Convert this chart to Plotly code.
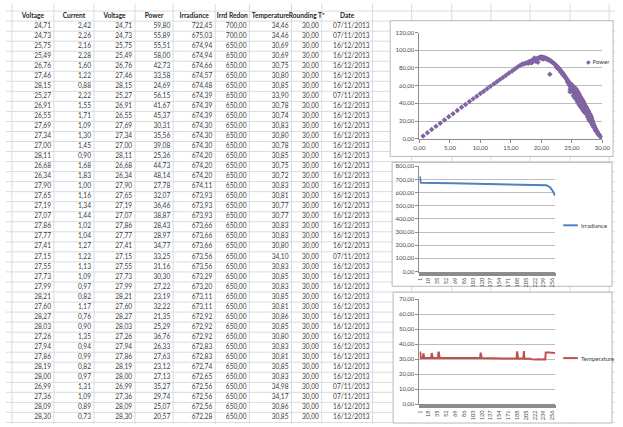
import plotly.graph_objects as go

# ---------------------------------------------------------------------------
# data: one row per reading (sheet is sorted by irradiance, 261 rows)
# ---------------------------------------------------------------------------
voltage = [
    # rows 1-40 (visible in the sheet)
    24.71, 24.73, 25.75, 25.49, 26.76, 27.46, 28.15, 25.27, 26.91, 26.55,
    27.69, 27.34, 27.00, 28.11, 26.68, 26.34, 27.90, 27.65, 27.19, 27.07,
    27.86, 27.77, 27.41, 27.15, 27.55, 27.73, 27.99, 28.21, 27.60, 28.27,
    28.03, 27.26, 27.94, 27.86, 28.19, 28.00, 26.99, 27.36, 28.09, 28.30,
    # rows 41-140
    28.42, 27.12, 26.45, 28.55, 27.81, 26.20, 28.70, 27.52, 25.96, 28.88,
    27.25, 26.02, 29.05, 27.95, 26.62, 29.21, 28.36, 25.60, 29.38, 27.04,
    26.88, 29.52, 28.12, 25.84, 29.66, 27.40, 26.30, 28.64, 27.58, 25.40,
    28.94, 26.96, 27.86, 25.12, 28.28, 26.72, 29.12, 27.63, 26.15, 28.50,
    24.96, 27.30, 29.30, 26.40, 28.05, 25.70, 28.78, 27.18, 26.58, 29.45,
    26.10, 26.85, 25.55, 27.45, 25.90, 26.50, 27.70, 25.30, 26.25, 27.05,
    28.20, 25.05, 26.70, 27.90, 25.78, 28.45, 26.35, 27.55, 24.85, 29.00,
    24.20, 24.45, 24.62, 24.80, 25.00, 25.22, 25.45, 25.66, 25.88, 26.05,
    24.35, 24.58, 24.90, 25.15, 25.38, 25.62, 25.82, 26.00, 26.18, 26.42,
    26.62, 26.80, 27.00, 27.22, 27.48, 27.75, 28.02, 28.30, 28.58, 28.85,
    # rows 141-170
    20.45, 20.62, 20.80, 21.00, 21.18, 21.35, 21.40, 21.55, 21.72, 21.90,
    22.08, 22.25, 22.42, 22.60, 22.78, 22.95, 23.12, 23.30, 23.48, 23.65,
    23.82, 24.00, 24.12, 23.90, 23.55, 23.20, 22.85, 22.50, 24.28, 24.50,
    # rows 171-200
    17.05, 17.30, 17.52, 17.75, 17.95, 18.10, 18.25, 18.32, 18.48, 18.60,
    18.72, 18.85, 18.95, 19.08, 19.15, 19.30, 19.42, 19.50, 19.62, 19.75,
    19.88, 20.00, 20.12, 20.25, 20.36, 19.20, 18.40, 17.85, 19.95, 20.30,
    # rows 201-240
    0.60, 1.30, 2.00, 2.70, 3.40, 4.10, 4.80, 5.50, 6.20, 6.90,
    7.55, 8.20, 8.80, 9.40, 10.00, 10.55, 11.10, 11.65, 12.20, 12.70,
    13.20, 13.70, 14.20, 14.70, 15.20, 15.65, 16.10, 16.50, 16.85, 20.55,
    20.95, 21.25, 21.65, 22.15, 22.70, 23.05, 23.40, 23.75, 24.05, 24.40,
    # rows 241-261
    26.20, 27.35, 25.70, 28.10, 26.90, 25.25, 27.80, 26.55, 28.60, 25.95,
    27.10, 24.70, 28.90, 26.75, 27.60, 25.45, 29.25, 26.35, 28.35, 27.95,
    29.80,
]

power = [
    59.80, 55.89, 55.51, 58.00, 42.73, 33.58, 24.69, 56.15, 41.67, 45.37,
    30.31, 35.56, 39.08, 25.36, 44.73, 48.14, 27.78, 32.07, 36.46, 38.87,
    28.43, 28.97, 34.77, 33.25, 31.16, 30.30, 27.22, 23.19, 32.22, 21.35,
    25.29, 36.76, 26.33, 27.63, 23.12, 27.13, 35.27, 29.74, 25.07, 20.57,
    18.60, 37.90, 47.00, 16.30, 28.90, 50.10, 13.90, 32.60, 52.80, 11.20,
    36.40, 51.60, 9.00, 27.10, 44.60, 7.10, 19.70, 56.40, 5.20, 38.60,
    41.90, 3.90, 24.30, 54.20, 2.40, 34.10, 48.40, 14.80, 31.40, 57.30,
    10.40, 40.30, 28.20, 59.60, 21.00, 43.30, 8.10, 31.00, 50.90, 17.00,
    61.20, 35.30, 6.00, 46.90, 25.40, 55.60, 12.60, 37.00, 44.10, 4.50,
    44.80, 36.20, 49.70, 28.40, 46.50, 39.80, 25.10, 51.80, 42.30, 32.60,
    19.00, 54.90, 37.50, 22.60, 48.00, 15.20, 41.20, 27.00, 57.90, 8.60,
    66.80, 64.90, 63.10, 61.90, 60.80, 58.90, 57.60, 55.20, 53.40, 51.00,
    63.70, 61.00, 58.60, 56.70, 54.20, 52.30, 50.10, 48.20, 45.90, 43.60,
    40.40, 38.00, 35.10, 32.40, 29.50, 26.30, 22.80, 18.40, 14.10, 10.20,
    91.60, 91.30, 90.70, 90.20, 89.40, 88.60, 72.80, 87.90, 86.90, 86.00,
    85.10, 83.90, 82.80, 81.50, 80.20, 78.80, 77.40, 75.90, 74.30, 72.80,
    71.00, 69.20, 67.80, 69.80, 72.10, 75.00, 78.30, 80.40, 65.20, 62.70,
    84.30, 85.00, 85.60, 86.10, 86.70, 87.20, 86.00, 87.80, 88.30, 86.90,
    89.00, 91.20, 89.60, 87.50, 90.10, 90.60, 86.30, 91.00, 91.50, 91.90,
    92.20, 92.40, 92.10, 91.80, 91.90, 88.40, 85.90, 85.20, 90.60, 90.20,
    3.12, 6.75, 10.38, 13.99, 17.61, 21.20, 24.77, 28.33, 31.93, 35.47,
    38.73, 41.98, 45.06, 48.03, 51.00, 53.70, 56.50, 59.18, 61.98, 64.39,
    66.79, 69.32, 71.71, 74.24, 76.61, 78.72, 80.98, 82.83, 84.42, 90.80,
    89.60, 88.90, 87.20, 84.40, 80.90, 77.80, 74.90, 71.60, 68.40, 64.30,
    38.50, 27.90, 44.20, 18.80, 31.40, 48.60, 21.50, 35.00, 12.90, 41.30,
    29.80, 53.00, 9.40, 33.20, 24.60, 46.50, 6.00, 37.10, 15.80, 20.20,
    1.60,
]

irradiance = [
    722.45, 675.03, 674.94, 674.94, 674.66, 674.57, 674.48, 674.39, 674.39, 674.39,
    674.30, 674.30, 674.30, 674.20, 674.20, 674.20, 674.11, 673.93, 673.93, 673.93,
    673.66, 673.66, 673.66, 673.56, 673.56, 673.29, 673.20, 673.11, 673.11, 672.92,
    672.92, 672.92, 672.83, 672.83, 672.74, 672.65, 672.56, 672.56, 672.56, 672.28,
    672.2, 672.2, 672.1, 672.1, 672.0, 672.0, 671.9, 671.9, 671.8, 671.8,
    671.7, 671.7, 671.6, 671.6, 671.5, 671.5, 671.4, 671.4, 671.3, 671.3,
    671.2, 671.2, 671.1, 671.1, 671.0, 671.0, 670.9, 670.9, 670.8, 670.8,
    670.7, 670.7, 670.6, 670.6, 670.5, 670.5, 670.4, 670.4, 670.3, 670.3,
    670.2, 670.2, 670.1, 670.1, 670.0, 670.0, 669.9, 669.9, 669.8, 669.8,
    669.7, 669.7, 669.6, 669.6, 669.5, 669.5, 669.4, 669.4, 669.3, 669.3,
    669.2, 669.2, 669.1, 669.1, 669.0, 669.0, 668.9, 668.9, 668.8, 668.8,
    668.7, 668.7, 668.6, 668.6, 668.5, 668.5, 668.4, 668.4, 668.3, 668.3,
    668.2, 668.2, 668.1, 668.1, 668.0, 668.0, 667.9, 667.9, 667.8, 667.8,
    667.7, 667.7, 667.6, 667.6, 667.5, 667.5, 667.4, 667.4, 667.3, 667.3,
    667.2, 667.2, 667.1, 667.1, 667.0, 667.0, 666.9, 666.9, 666.8, 666.8,
    666.7, 666.7, 666.6, 666.6, 666.5, 666.5, 666.4, 666.4, 666.3, 666.3,
    666.2, 666.2, 666.1, 666.1, 666.0, 666.0, 665.9, 665.9, 665.8, 665.8,
    665.7, 665.7, 665.6, 665.6, 665.5, 665.5, 665.4, 665.4, 665.3, 665.3,
    665.2, 665.2, 665.1, 665.1, 665.0, 665.0, 664.9, 664.9, 664.8, 664.8,
    664.7, 664.7, 664.6, 664.6, 664.5, 664.5, 664.4, 664.4, 664.3, 664.3,
    664.2, 664.2, 664.1, 664.1, 664.0, 664.0, 663.9, 663.9, 663.8, 663.8,
    663.7, 663.7, 663.6, 663.6, 663.5, 663.5, 663.4, 663.4, 663.3, 663.3,
    663.2, 663.2, 663.1, 663.1, 663.0, 663.0, 662.9, 662.9, 662.8, 662.8,
    662.6, 662.3, 662.0, 661.7, 661.4, 661.0, 660.6, 660.2, 659.8, 659.3,
    658.7, 658.0, 657.2, 656.3, 655.2, 653.8, 652.1, 650.0, 647.5, 644.6,
    641.2, 637.3, 632.8, 627.7, 622.0, 615.6, 608.5, 600.7, 592.6, 585.2,
    578.4,
]

temperature = [
    34.46, 34.46, 30.69, 30.69, 30.75, 30.80, 30.85, 33.90, 30.78, 30.74,
    30.83, 30.80, 30.78, 30.85, 30.75, 30.72, 30.83, 30.81, 30.77, 30.77,
    30.83, 30.83, 30.80, 34.10, 30.83, 30.85, 30.83, 30.85, 30.81, 30.86,
    30.85, 30.80, 30.83, 30.81, 30.85, 30.83, 34.98, 34.17, 30.86, 30.85,
    30.84, 30.81, 30.86, 30.83, 30.80, 30.85, 30.82, 30.84, 30.87, 30.81,
    30.83, 30.85, 30.80, 30.82, 30.86, 30.84, 30.81, 30.83, 30.85, 30.82,
    30.80, 30.84, 30.86, 30.83, 30.81, 30.85, 30.82, 30.80, 30.84, 30.83,
    30.86, 30.81, 30.83, 30.85, 30.82, 30.80, 30.84, 30.86, 30.81, 30.83,
    30.85, 30.82, 30.84, 30.80, 30.83, 30.86, 30.81, 30.84, 30.82, 30.85,
    30.83, 30.80, 30.84, 30.86, 30.82, 30.81, 30.85, 30.83, 30.80, 30.84,
    30.82, 30.86, 30.83, 30.81, 30.85, 30.84, 30.80, 30.82, 30.86, 30.83,
    30.81, 30.84, 30.85, 30.82, 30.80, 30.83, 30.86, 34.35,
    30.84, 30.81, 30.85, 30.83, 30.80, 30.82, 30.86, 30.84, 30.81, 30.83,
    30.85, 30.82, 30.80, 30.84, 30.83, 30.81, 30.79,
    30.52, 30.48, 30.45, 30.50, 30.47, 30.44, 30.49, 30.46, 30.51, 30.45,
    30.48, 30.43, 30.47, 30.50, 30.44, 30.46, 30.49, 30.45, 30.42, 30.47,
    30.44, 30.48, 30.46, 30.43, 30.45, 30.49, 30.41, 30.46, 30.44, 30.47,
    30.43, 30.45, 30.48, 30.42, 30.46, 30.44, 30.40, 30.45, 30.43, 30.47,
    30.41, 30.44, 30.46, 30.42, 30.45, 30.40, 30.43, 30.44, 30.41, 30.46,
    30.42, 30.44, 35.21,
    30.42, 30.39, 30.44, 30.40, 30.41, 30.38, 30.43, 30.40, 30.37, 30.41,
    30.39, 30.42, 35.34,
    30.36, 30.40, 30.33, 30.38, 30.35, 30.31, 30.37, 30.34, 30.30, 30.35,
    30.32, 30.28, 30.33,
    29.98, 29.93, 29.95, 29.90, 29.96, 29.91, 29.88, 29.94, 29.92, 29.87,
    29.93, 29.89, 29.95, 29.90, 29.86, 29.92, 29.88, 29.91, 29.85, 29.90,
    29.87, 29.93, 29.89, 29.86, 29.91, 29.88, 29.84, 29.90,
    34.52, 34.58, 34.49, 34.55, 34.61, 34.50, 34.57, 34.53, 34.48, 34.56,
    34.51, 34.46, 34.54, 34.38, 34.22, 34.10, 34.05, 34.12, 34.08,
]

# sheet-only columns (first 40 rows)
current = [
    2.42, 2.26, 2.16, 2.28, 1.60, 1.22, 0.88, 2.22, 1.55, 1.71,
    1.09, 1.30, 1.45, 0.90, 1.68, 1.83, 1.00, 1.16, 1.34, 1.44,
    1.02, 1.04, 1.27, 1.22, 1.13, 1.09, 0.97, 0.82, 1.17, 0.76,
    0.90, 1.35, 0.94, 0.99, 0.82, 0.97, 1.31, 1.09, 0.89, 0.73,
]
irrd_redon = [
    700.00, 700.00, 650.00, 650.00, 650.00, 650.00, 650.00, 650.00, 650.00, 650.00,
    650.00, 650.00, 650.00, 650.00, 650.00, 650.00, 650.00, 650.00, 650.00, 650.00,
    650.00, 650.00, 650.00, 650.00, 650.00, 650.00, 650.00, 650.00, 650.00, 650.00,
    650.00, 650.00, 650.00, 650.00, 650.00, 650.00, 650.00, 650.00, 650.00, 650.00,
]
rounding_t = [
    30.00, 30.00, 30.00, 30.00, 30.00, 30.00, 30.00, 30.00, 30.00, 30.00,
    30.00, 30.00, 30.00, 30.00, 30.00, 30.00, 30.00, 30.00, 30.00, 30.00,
    30.00, 30.00, 30.00, 30.00, 30.00, 30.00, 30.00, 30.00, 30.00, 30.00,
    30.00, 30.00, 30.00, 30.00, 30.00, 30.00, 30.00, 30.00, 30.00, 30.00,
]
A, B = "07/11/2013", "16/12/2013"
dates = [
    A, A, B, B, B, B, B, A, B, B,
    B, B, B, B, B, B, B, B, B, B,
    B, B, B, A, B, B, B, B, B, B,
    B, B, B, B, B, B, A, A, B, B,
]
headers = ["Voltage", "Current", "Voltage", "Power", "Irradiance",
           "Irrd Redon", "Temperature", "Rounding Tª", "Date"]
cat_ticks = [1, 18, 35, 52, 69, 86, 103, 120, 137, 154, 171, 188, 205, 222, 239, 256]

# ---------------------------------------------------------------------------
# layout constants (pixels of the 623x427 page)
# ---------------------------------------------------------------------------
W, H = 623, 427
FONT = "Lato, 'Open Sans', sans-serif"
GRID = "#d9dbde"
AXIS = "#8c8c8c"
TXT = "#3c3c3c"
col_edges = [6, 49, 90, 132, 171, 214, 249, 292, 323, 375]
extra_edges = [415, 456, 496, 536, 577, 617]
ROW_H = 10.2
ROW0 = 12.3          # centre of the header row
N_ROWS = len(current)


def fx(px):
    return px / W


def fy(py):
    return 1 - py / H


def num(v):
    return f"{v:.2f}".replace(".", ",")


fig = go.Figure()

# ---- spreadsheet cells ----------------------------------------------------
rows = list(range(1, N_ROWS + 1))
table_cols = [
    voltage[:N_ROWS], current, voltage[:N_ROWS], power[:N_ROWS],
    irradiance[:N_ROWS], irrd_redon, temperature[:N_ROWS], rounding_t, dates,
]
for j, (head, vals) in enumerate(zip(headers, table_cols)):
    left, right = col_edges[j], col_edges[j + 1]
    fig.add_trace(go.Scatter(
        x=[(left + right) / 2], y=[0], mode="text",
        text=[f"<b>{head}</b>"], textposition="middle center",
        textfont=dict(family=FONT, size=6.6, color="#1e1e1e"),
        showlegend=False, hoverinfo="skip", xaxis="x", yaxis="y",
    ))
    fig.add_trace(go.Scatter(
        x=[right - 3] * len(vals), y=rows, mode="text",
        text=[v if isinstance(v, str) else num(v) for v in vals],
        textposition="middle left",
        textfont=dict(family=FONT, size=6.6, color=TXT),
        showlegend=False, hoverinfo="skip", xaxis="x", yaxis="y",
    ))

# ---- chart 1: power vs voltage -------------------------------------------
fig.add_trace(go.Scatter(
    x=voltage, y=power, mode="markers", name="Power",
    marker=dict(symbol="diamond", size=4.2, color="#8064A2", line=dict(width=0)),
    showlegend=False, xaxis="x2", yaxis="y2",
))

# ---- chart 2 and 3: irradiance and temperature by row ---------------------
idx = list(range(1, len(irradiance) + 1))
fig.add_trace(go.Scatter(
    x=idx, y=irradiance, mode="lines", name="Irradiance",
    line=dict(color="#4F81BD", width=2), showlegend=False,
    xaxis="x3", yaxis="y3",
))
fig.add_trace(go.Scatter(
    x=idx, y=temperature, mode="lines", name="Temperature",
    line=dict(color="#C0504D", width=2), showlegend=False,
    xaxis="x4", yaxis="y4",
))

# ---- shapes: sheet grid, then the white chart boxes over it ---------------
shapes = []
for k in range(-1, N_ROWS + 1):
    shapes.append(dict(type="line", xref="paper", yref="y", x0=0, x1=1,
                       y0=k + 0.5, y1=k + 0.5, layer="below",
                       line=dict(color=GRID, width=1)))
for e in col_edges + extra_edges:
    shapes.append(dict(type="line", xref="x", yref="paper", x0=e, x1=e,
                       y0=0, y1=1, layer="below",
                       line=dict(color=GRID, width=1)))
boxes = [(393, 17, 621, 155), (395, 161, 620, 287), (396, 293, 620, 426)]
for x0, y0, x1, y1 in boxes:
    shapes.append(dict(type="rect", xref="paper", yref="paper",
                       x0=fx(x0), x1=fx(x1), y0=fy(y1), y1=fy(y0), layer="below",
                       fillcolor="white", line=dict(color="#b8b8b8", width=1)))
# legend keys for the line charts
for yk, col in [(225, "#4F81BD"), (360, "#C0504D")]:
    shapes.append(dict(type="line", xref="paper", yref="paper",
                       x0=fx(570), x1=fx(585), y0=fy(yk), y1=fy(yk),
                       line=dict(color=col, width=2)))

legend_font = dict(family=FONT, size=6, color=TXT)
annotations = [
    dict(text='<span style="color:#8064A2">◆</span> Power', x=fx(591), y=fy(58),
         xref="paper", yref="paper", xanchor="left", yanchor="middle",
         showarrow=False, font=legend_font),
    dict(text="Irradiance", x=fx(586), y=fy(225), xref="paper", yref="paper",
         xanchor="left", yanchor="middle", showarrow=False, font=legend_font),
    dict(text="Temperature", x=fx(586), y=fy(360), xref="paper", yref="paper",
         xanchor="left", yanchor="middle", showarrow=False, font=legend_font),
]

tick_font = dict(family=FONT, size=6, color="#4a4a4a")
axis_base = dict(showline=True, linecolor=AXIS, linewidth=1, ticks="outside",
                 ticklen=3, tickcolor=AXIS, tickfont=tick_font, zeroline=False,
                 showgrid=False, fixedrange=True)
yaxis_base = dict(axis_base, showgrid=True, gridcolor="#bdbdbd", gridwidth=1,
                  tickformat=".2f")
cat_axis = dict(axis_base, range=[0.5, len(irradiance) + 0.5], tickvals=cat_ticks,
                ticktext=[str(t) for t in cat_ticks], tickangle=-90,
                tickfont=dict(family=FONT, size=5.6, color="#4a4a4a"),
                minor=dict(ticks="outside", ticklen=3, tickcolor=AXIS,
                           dtick=1, tick0=0.5, showgrid=False))

fig.update_layout(
    width=W, height=H, autosize=False,
    margin=dict(l=0, r=0, t=0, b=0, pad=0),
    paper_bgcolor="white", plot_bgcolor="rgba(0,0,0,0)",
    separators=",.",
    font=dict(family=FONT, color=TXT),
    xaxis=dict(domain=[0, 1], range=[0, W], visible=False, fixedrange=True),
    yaxis=dict(domain=[0, 1], range=[(H - ROW0) / ROW_H, -ROW0 / ROW_H],
               visible=False, fixedrange=True),
    xaxis2=dict(axis_base, domain=[fx(423), fx(610)], range=[0, 30], dtick=5,
                tickformat=".2f", anchor="y2"),
    yaxis2=dict(yaxis_base, domain=[fy(137), fy(29)], range=[0, 120], dtick=20,
                anchor="x2"),
    xaxis3=dict(cat_axis, domain=[fx(423), fx(562)], anchor="y3"),
    yaxis3=dict(yaxis_base, domain=[fy(272), fy(165)], range=[0, 800], dtick=100,
                anchor="x3"),
    xaxis4=dict(cat_axis, domain=[fx(423), fx(562)], anchor="y4"),
    yaxis4=dict(yaxis_base, domain=[fy(407), fy(300)], range=[0, 70], dtick=10,
                anchor="x4"),
    shapes=shapes,
    annotations=annotations,
    showlegend=False,
)

# the page's default body margin would push the figure 8px off the corner
fig.write_html(
    "out.html",
    config={"displayModeBar": False},
    post_script="document.body.style.margin='0';document.body.style.overflow='hidden';",
)
